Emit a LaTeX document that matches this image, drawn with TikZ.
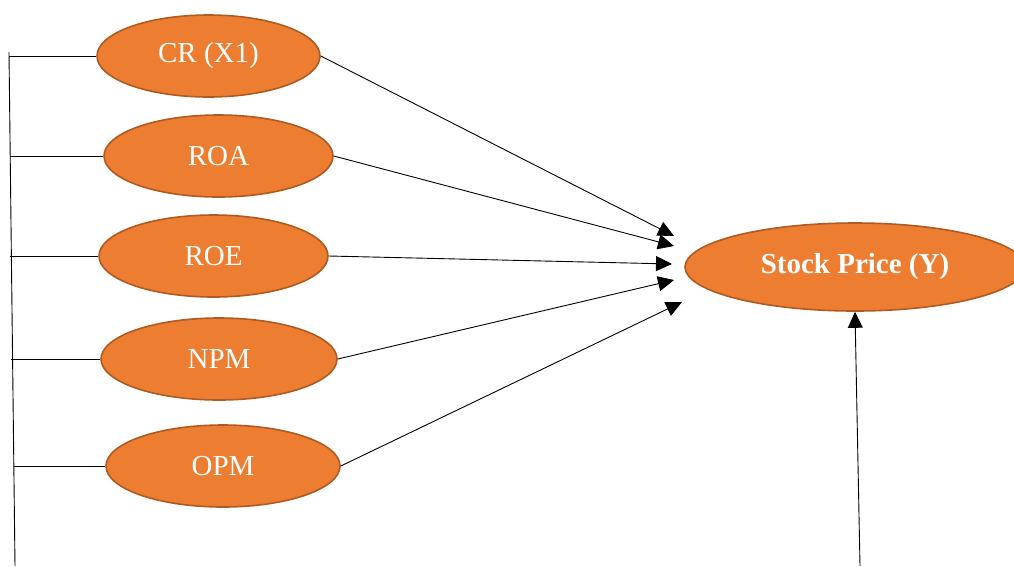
\documentclass[tikz,border=0pt]{standalone}
\usepackage{fontspec}
\setmainfont{Liberation Serif}
\usetikzlibrary{shapes.geometric,arrows.meta}
\definecolor{orfill}{HTML}{ED7D31}
\definecolor{orline}{HTML}{AE5A21}
\begin{document}
\begin{tikzpicture}[x=1pt,y=-1pt,
  var/.style={ellipse,draw=orline,line width=1.6pt,fill=orfill,text=white,inner sep=0pt,
    font=\fontsize{29}{34}\selectfont},
  link/.style={line width=0.9pt,black},
  arr/.style={line width=0.9pt,black,-{Triangle[length=16pt,width=15pt]}}]
\useasboundingbox (0,0) rectangle (1014,566);
\node[var,minimum width=223pt,minimum height=82pt] (cr) at (208.5,56) {CR (X1)};
\node[var,minimum width=229pt,minimum height=82pt] (roa) at (218.5,156) {ROA};
\node[var,minimum width=229pt,minimum height=82pt] (roe) at (213.5,256) {ROE};
\node[var,minimum width=236pt,minimum height=82pt] (npm) at (219,359) {NPM};
\node[var,minimum width=234pt,minimum height=82pt] (opm) at (223,466) {OPM};
\node[var,minimum width=340pt,minimum height=88pt,font=\fontsize{29}{34}\selectfont\bfseries] (y) at (855,267) {Stock Price (Y)};
% left bus
\coordinate (top) at (9,52);
\coordinate (bot) at (15,566);
\coordinate (b1) at (9,56);
\coordinate (b2) at (10,156);
\coordinate (b3) at (10,256);
\coordinate (b4) at (11,359);
\coordinate (b5) at (14,466);
\draw[link] (top) -- (bot);
\draw[link] (b1) -- (cr.west);
\draw[link] (b2) -- (roa.west);
\draw[link] (b3) -- (roe.west);
\draw[link] (b4) -- (npm.west);
\draw[link] (b5) -- (opm.west);
% arrows
\coordinate (t1) at (674,236);
\coordinate (t2) at (674,246);
\coordinate (t3) at (672,264);
\coordinate (t4) at (674,280);
\coordinate (t5) at (682,302);
\draw[arr] (cr.east) -- (t1);
\draw[arr] (roa.east) -- (t2);
\draw[arr] (roe.east) -- (t3);
\draw[arr] (npm.east) -- (t4);
\draw[arr] (opm.east) -- (t5);
\coordinate (ybot) at (860,566);
\draw[arr] (ybot) -- (y.south);
\end{tikzpicture}
\end{document}
